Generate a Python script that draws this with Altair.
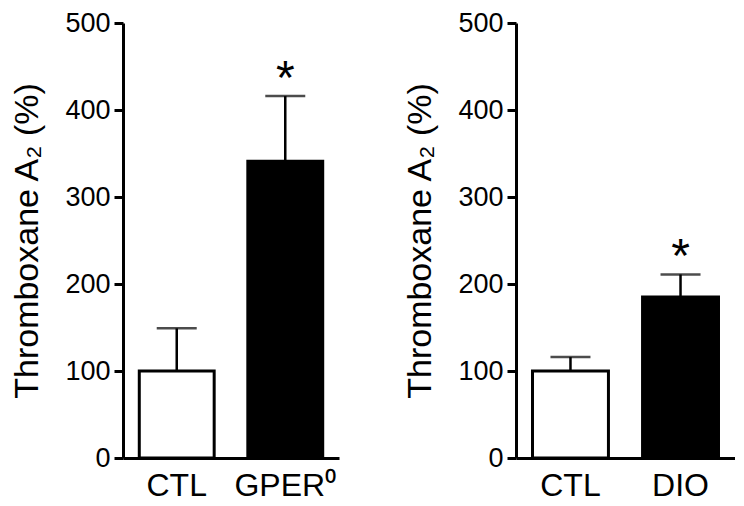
import altair as alt
import pandas as pd

# ---- data ----
left_groups = ["CTL", "GPER⁰"]
left_means = [100, 341]
left_sem = [49, 75]
left_marks = ["", "*"]

right_groups = ["CTL", "DIO"]
right_means = [100, 185]
right_sem = [16, 26]
right_marks = ["", "*"]

fills = ["white", "black"]
y_title = "Thromboxane A₂ (%)"
y_ticks = [0, 100, 200, 300, 400, 500]

FONT = "Liberation Sans"


def panel(groups, means, sems, marks, width, height):
    df = pd.DataFrame({
        "group": groups,
        "mean": means,
        "top": [m + s for m, s in zip(means, sems)],
        "mark": marks,
        "fill": fills,
    })
    yscale = alt.Scale(domain=[0, 500], nice=False, zero=True)
    yaxis = alt.Axis(values=y_ticks, grid=False, tickSize=9, tickWidth=3,
                     tickColor="black", domainWidth=3, domainColor="black",
                     labelFontSize=27, labelColor="black", labelPadding=4,
                     titleFontSize=34, titleFontWeight="normal",
                     titleColor="black", titlePadding=20)
    x = alt.X("group:N", sort=groups, title=None,
              scale=alt.Scale(paddingInner=0.31, paddingOuter=0.15),
              axis=alt.Axis(labelAngle=0, ticks=False, labelFontSize=32,
                            labelColor="black", labelPadding=12,
                            domainWidth=3, domainColor="black"))
    base = alt.Chart(df).encode(x=x)
    bars = base.mark_bar(stroke="black", strokeWidth=3).encode(
        y=alt.Y("mean:Q", scale=yscale, axis=yaxis, title=y_title),
        fill=alt.Fill("fill:N", scale=None),
    )
    rules = base.mark_rule(strokeWidth=2.5, color="black").encode(
        y=alt.Y("mean:Q", title=y_title), y2="top:Q")
    caps = base.mark_tick(size=40, thickness=2.5, color="black").encode(
        y=alt.Y("top:Q", title=y_title))
    stars = base.mark_text(fontSize=48, dy=-2, baseline="alphabetic",
                           color="black", font=FONT).encode(
        y=alt.Y("top:Q", title=y_title), text="mark:N")
    return alt.layer(rules, caps, bars, stars).properties(width=width, height=height)


left = panel(left_groups, left_means, left_sem, left_marks, 216, 435)
right = panel(right_groups, right_means, right_sem, right_marks, 219, 435)

chart = alt.hconcat(left, right, spacing=64).properties(
    padding={"left": 2, "top": 1, "right": 0, "bottom": 0}
).configure_view(stroke=None).configure_axis(
    labelFont=FONT, titleFont=FONT
)

chart.save("out.html", embed_options={"renderer": "svg", "actions": False})
